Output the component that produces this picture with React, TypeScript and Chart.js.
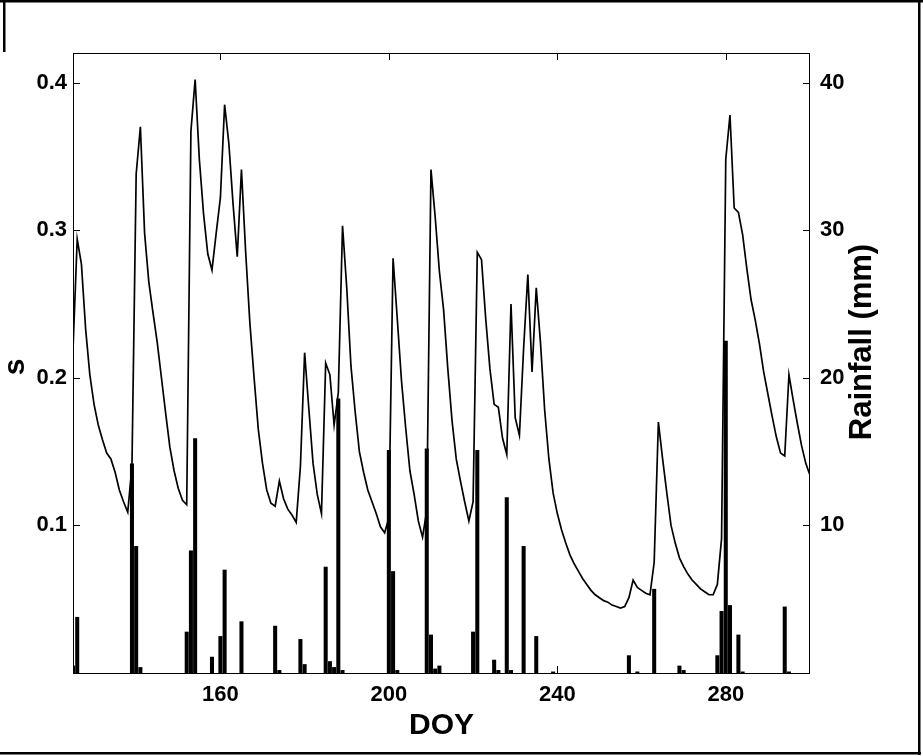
import React, { useEffect, useRef } from "react";
import { Chart, registerables } from "chart.js";

Chart.register(...registerables);

// ---- data -----------------------------------------------------------
const START_DOY = 125; // first day of the soil-moisture series
// daily relative soil moisture s, DOY 125 .. 300
const S_VALUES = [
  0.219, 0.294, 0.277, 0.233, 0.202, 0.182, 0.168, 0.158, 0.149, 0.145, // 125-134
  0.136, 0.124, 0.116, 0.109, 0.140, 0.338, 0.370, 0.298, 0.265, 0.244, // 135-144
  0.224, 0.200, 0.176, 0.153, 0.137, 0.125, 0.117, 0.114, 0.367, 0.402, // 145-154
  0.348, 0.311, 0.284, 0.273, 0.298, 0.322, 0.385, 0.359, 0.318, 0.282, // 155-164
  0.341, 0.285, 0.237, 0.200, 0.165, 0.142, 0.124, 0.115, 0.113, 0.130, // 165-174
  0.118, 0.111, 0.107, 0.102, 0.140, 0.217, 0.179, 0.142, 0.121, 0.108, // 175-184
  0.210, 0.202, 0.168, 0.190, 0.303, 0.261, 0.208, 0.177, 0.150, 0.136, // 185-194
  0.124, 0.116, 0.108, 0.099, 0.095, 0.105, 0.281, 0.240, 0.198, 0.166, // 195-204
  0.137, 0.121, 0.103, 0.092, 0.110, 0.341, 0.309, 0.272, 0.246, 0.206, // 205-214
  0.171, 0.145, 0.130, 0.116, 0.103, 0.116, 0.285, 0.280, 0.240, 0.206, // 215-224
  0.182, 0.180, 0.159, 0.148, 0.250, 0.173, 0.161, 0.220, 0.270, 0.204, // 225-234
  0.261, 0.224, 0.178, 0.145, 0.122, 0.108, 0.097, 0.088, 0.080, 0.074, // 235-244
  0.069, 0.064, 0.060, 0.056, 0.053, 0.051, 0.049, 0.048, 0.046, 0.045, // 245-254
  0.044, 0.045, 0.051, 0.063, 0.058, 0.056, 0.054, 0.053, 0.075, 0.170, // 255-264
  0.145, 0.122, 0.100, 0.088, 0.078, 0.072, 0.067, 0.063, 0.060, 0.057, // 265-274
  0.055, 0.053, 0.053, 0.060, 0.091, 0.348, 0.378, 0.315, 0.312, 0.297, // 275-284
  0.274, 0.253, 0.239, 0.223, 0.204, 0.189, 0.174, 0.160, 0.149, 0.147, // 285-294
  0.202, 0.185, 0.169, 0.154, 0.142, 0.134, // 295-300
];

// daily rainfall (mm) on rain days
const RAIN_DOY = [
  125, 126, 139, 140, 141, 152, 153, 154, 158, 160, 161, 165, 173, 174, 179, 180,
  185, 186, 187, 188, 189, 200, 201, 202, 209, 210, 211, 212, 220, 221, 225, 226,
  228, 229, 232, 235, 239, 257, 259, 263, 269, 270, 278, 279, 280, 281, 283, 284,
  294, 295,
];
const RAIN_MM = [
  0.5, 3.8, 14.2, 8.6, 0.4, 2.8, 8.3, 15.9, 1.1, 2.5, 7.0, 3.5, 3.2, 0.2, 2.3, 0.6,
  7.2, 0.8, 0.4, 18.6, 0.2, 15.1, 6.9, 0.2, 15.2, 2.6, 0.3, 0.5, 2.8, 15.1, 0.9, 0.2,
  11.9, 0.2, 8.6, 2.5, 0.1, 1.2, 0.1, 5.7, 0.5, 0.2, 1.2, 4.2, 22.5, 4.6, 2.6, 0.1,
  4.5, 0.1,
];

const X_TICKS = [160, 200, 240, 280];
const S_TICKS = [0.1, 0.2, 0.3, 0.4];
const RAIN_TICKS = [10, 20, 30, 40];

const X_MIN = 125;
const X_MAX = 300;
const S_MAX = 0.42;
const RAIN_MAX = 42;

const X_TITLE = "DOY";
const S_TITLE = "s";
const RAIN_TITLE = "Rainfall (mm)";

// ---- drawing --------------------------------------------------------
const FONT = '"Liberation Sans", Arial, Helvetica, sans-serif';

const framePlugin = {
  id: "matlabFrame",
  afterDraw(chart: any) {
    const { ctx, chartArea: a, scales } = chart;
    ctx.save();
    // plot box
    ctx.strokeStyle = "#000";
    ctx.lineWidth = 1;
    ctx.strokeRect(a.left + 0.5, a.top + 0.5, a.right - a.left - 1, a.bottom - a.top);
    // inward ticks
    const L = 7;
    ctx.beginPath();
    for (const v of X_TICKS) {
      const x = Math.round(scales.x.getPixelForValue(v)) + 0.5;
      ctx.moveTo(x, a.top);
      ctx.lineTo(x, a.top + L);
      ctx.moveTo(x, a.bottom);
      ctx.lineTo(x, a.bottom - L);
    }
    for (const v of S_TICKS) {
      const y = Math.round(scales.y.getPixelForValue(v)) + 0.5;
      ctx.moveTo(a.left, y);
      ctx.lineTo(a.left + L, y);
    }
    for (const v of RAIN_TICKS) {
      const y = Math.round(scales.y2.getPixelForValue(v)) + 0.5;
      ctx.moveTo(a.right, y);
      ctx.lineTo(a.right - L, y);
    }
    ctx.stroke();

    // axis titles
    ctx.fillStyle = "#000";
    ctx.font = `bold 30px ${FONT}`;
    ctx.textAlign = "center";
    ctx.textBaseline = "alphabetic";
    ctx.fillText(X_TITLE, (a.left + a.right) / 2, 734);

    ctx.save();
    ctx.translate(24, (a.top + a.bottom) / 2 + 4);
    ctx.rotate(-Math.PI / 2);
    ctx.fillText(S_TITLE, 0, 0);
    ctx.restore();

    ctx.save();
    ctx.font = `bold 31px ${FONT}`;
    ctx.translate(871, 342);
    ctx.rotate(-Math.PI / 2);
    ctx.fillText(RAIN_TITLE, 0, 0);
    ctx.restore();

    // outer figure frame
    ctx.fillRect(0, 0, 923, 2.5);
    ctx.fillRect(3, 0, 2.5, 52);
    ctx.fillRect(918, 0, 2.5, 755);
    ctx.fillRect(0, 752, 921, 2.5);
    ctx.restore();
  },
};

export default function App() {
  const ref = useRef<HTMLCanvasElement | null>(null);

  useEffect(() => {
    document.body.style.margin = "0";
    const canvas = ref.current;
    if (!canvas) return;

    const linePoints = S_VALUES.map((v, i) => ({ x: START_DOY + i, y: v }));
    const barPoints = RAIN_DOY.map((d, i) => ({ x: d, y: RAIN_MM[i] }));
    const tickFont = { family: FONT, size: 22, weight: "bold" as const };

    const chart = new Chart(canvas, {
      type: "bar",
      data: {
        datasets: [
          {
            type: "bar",
            label: "Rainfall",
            data: barPoints,
            yAxisID: "y2",
            xAxisID: "x",
            backgroundColor: "#000",
            borderWidth: 0,
            barPercentage: 0.96,
            categoryPercentage: 1,
            order: 1,
          },
          {
            type: "line",
            label: "s",
            data: linePoints,
            yAxisID: "y",
            xAxisID: "x",
            borderColor: "#000",
            borderWidth: 1.7,
            pointRadius: 0,
            tension: 0,
            fill: false,
            order: 2,
          } as any,
        ],
      },
      options: {
        responsive: false,
        animation: false,
        events: [],
        layout: { padding: { top: 53, left: 0, right: 0, bottom: 0 } },
        plugins: {
          legend: { display: false },
          tooltip: { enabled: false },
          title: { display: false },
        },
        scales: {
          x: {
            type: "linear",
            position: "bottom",
            min: X_MIN,
            max: X_MAX,
            offset: false,
            grid: { display: false, drawTicks: false, offset: false },
            border: { display: false },
            afterBuildTicks: (s: any) => {
              s.ticks = X_TICKS.map((v) => ({ value: v }));
            },
            afterFit: (s: any) => {
              s.height = 83;
            },
            ticks: {
              autoSkip: false,
              maxRotation: 0,
              padding: 9,
              color: "#000",
              font: tickFont,
              callback: (v: any) => String(v),
            },
          },
          y: {
            type: "linear",
            position: "left",
            min: 0,
            max: S_MAX,
            grid: { display: false, drawTicks: false },
            border: { display: false },
            afterBuildTicks: (s: any) => {
              s.ticks = S_TICKS.map((v) => ({ value: v }));
            },
            afterFit: (s: any) => {
              s.width = 73;
            },
            ticks: {
              padding: 6,
              color: "#000",
              font: tickFont,
              callback: (v: any) => Number(v).toFixed(1),
            },
          },
          y2: {
            type: "linear",
            position: "right",
            min: 0,
            max: RAIN_MAX,
            grid: { display: false, drawTicks: false },
            border: { display: false },
            afterBuildTicks: (s: any) => {
              s.ticks = RAIN_TICKS.map((v) => ({ value: v }));
            },
            afterFit: (s: any) => {
              s.width = 113;
            },
            ticks: {
              padding: 10,
              color: "#000",
              font: tickFont,
              callback: (v: any) => String(v),
            },
          },
        },
      },
      plugins: [framePlugin],
    });

    return () => chart.destroy();
  }, []);

  return (
    <div style={{ position: "absolute", left: 0, top: 0, width: 923, height: 756, background: "#fff" }}>
      <canvas ref={ref} width={923} height={756} style={{ display: "block", width: 923, height: 756 }} />
    </div>
  );
}
